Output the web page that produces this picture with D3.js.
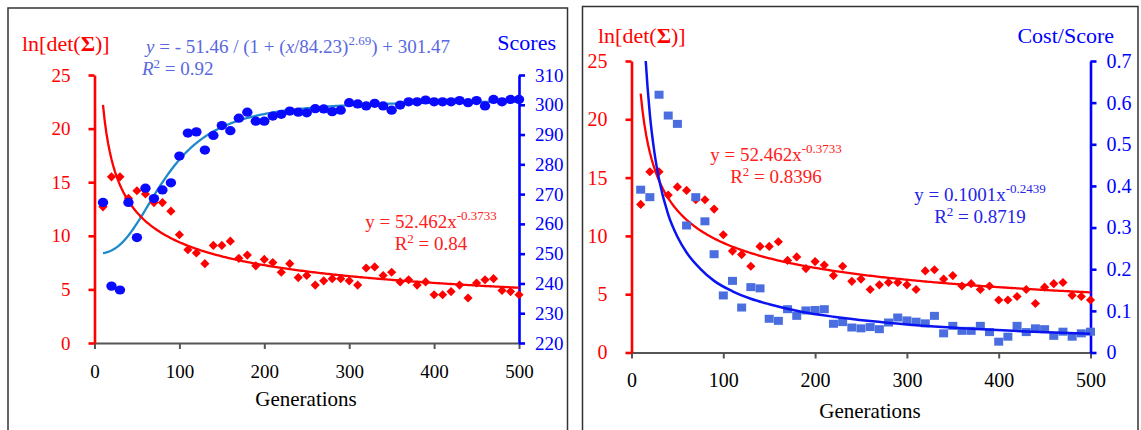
<!DOCTYPE html>
<html><head><meta charset="utf-8">
<script src="https://cdn.jsdelivr.net/npm/d3@7"></script>
<style>
body{margin:0;background:#fff}
text{font-family:"Liberation Serif","Times New Roman",serif}
</style>
</head><body>
<svg id="c" width="1141" height="430"></svg>
<script>
// ---------- data ----------
const generations = [10,20,30,40,50,60,70,80,90,100,110,120,130,140,150,160,170,180,190,200,
  210,220,230,240,250,260,270,280,290,300,310,320,330,340,350,360,370,380,390,400,
  410,420,430,440,450,460,470,480,490,500];
const lnDet = [12.7,15.5,15.5,13.5,14.2,13.9,13.1,13.1,12.3,10.1,8.7,8.4,7.4,9.1,9.1,9.5,7.9,8.2,7.2,7.8,
  7.5,6.6,7.4,6.1,6.3,5.4,5.8,6.0,6.0,5.8,5.4,7.0,7.1,6.3,6.6,5.7,5.9,5.4,5.7,4.5,
  4.5,4.8,5.4,4.2,5.6,5.9,6.0,4.9,4.8,4.5];
const scores = [267.2,239.1,237.8,267.2,255.4,272.0,268.5,271.4,273.8,282.8,290.5,290.9,284.8,289.7,293.0,291.3,295.5,297.5,294.5,294.5,
  296.2,296.8,297.9,297.5,297.3,298.7,298.6,297.7,298.2,300.7,300.3,299.6,300.5,299.6,298.2,299.9,301.0,301.0,301.6,301.0,
  301.0,301.0,301.4,300.7,301.4,299.6,301.8,301.0,301.8,301.8];
const costScore = [0.391,0.373,0.619,0.569,0.549,0.305,0.373,0.315,0.236,0.137,0.172,0.108,0.157,0.154,0.081,0.076,0.104,0.088,0.101,0.102,
  0.104,0.069,0.073,0.060,0.058,0.061,0.056,0.072,0.084,0.077,0.074,0.070,0.088,0.046,0.064,0.052,0.052,0.064,0.049,0.026,
  0.038,0.064,0.049,0.058,0.056,0.040,0.050,0.038,0.046,0.050];
const costTrendGen = [12,15,20,25,30,40,50,60,75,90,110,130,150,185,220,260,300,370,430,500];
const costTrendVal = [0.857,0.719,0.572,0.480,0.416,0.331,0.278,0.240,0.201,0.172,0.147,0.129,0.116,0.098,0.086,0.0755,0.0673,0.0571,0.0507,0.045];
// fitted equations shown on the chart
const lnFit = [52.462, -0.3733];                 // y = a x^b
const scoreFit = [-51.46, 84.23, 2.69, 301.47];  // y = a/(1+(x/c)^p)+d

const xTicks = [0,100,200,300,400,500];
const lnTicks = [0,5,10,15,20,25];
const scoreTicks = [220,230,240,250,260,270,280,290,300,310];
const costTicks = [0,0.1,0.2,0.3,0.4,0.5,0.6,0.7];

// ---------- helpers ----------
const svg = d3.select('#c');
const RED = '#ff0000', BLUE = '#0000ff';
const fitX = d3.range(10, 500.001, 2);

svg.append('rect').attr('x',8).attr('y',8).attr('width',559.5).attr('height',440)
  .attr('fill','none').attr('stroke','#333').attr('stroke-width',1.5);
svg.append('rect').attr('x',582.5).attr('y',6.5).attr('width',555.5).attr('height',440)
  .attr('fill','none').attr('stroke','#333').attr('stroke-width',1.5);

function styleAxis(g, color, w, fs) {
  g.select('.domain').attr('stroke', color).attr('stroke-width', w);
  g.selectAll('.tick line').attr('stroke', color).attr('stroke-width', w);
  g.selectAll('.tick text').attr('fill', color).attr('font-size', fs)
    .attr('font-family','"Liberation Serif","Times New Roman",serif');
}

function panel(o) {
  const x = d3.scaleLinear().domain([0,500]).range([o.x0, o.x1]);
  const yL = d3.scaleLinear().domain([0,25]).range([o.yb, o.yt]);
  const yR = d3.scaleLinear().domain(o.rDomain).range([o.yb, o.yt]);
  const g = svg.append('g');

  const clipId = 'clip' + o.id;
  svg.append('clipPath').attr('id', clipId).append('rect')
    .attr('x', o.x0).attr('y', o.yt).attr('width', o.x1 - o.x0).attr('height', o.yb - o.yt);

  const ax = g.append('g').attr('transform', `translate(0,${o.yb})`)
    .call(d3.axisBottom(x).tickValues(xTicks).tickSize(6).tickSizeOuter(0).tickPadding(o.xPad));
  styleAxis(ax, '#555', 2, o.fs);
  ax.selectAll('.tick text').attr('fill', '#000');

  const al = g.append('g').attr('transform', `translate(${o.x0},0)`)
    .call(d3.axisLeft(yL).tickValues(lnTicks).tickSize(6).tickSizeOuter(0).tickPadding(18));
  styleAxis(al, RED, 2.6, o.fs);
  const ar = g.append('g').attr('transform', `translate(${o.x1},0)`)
    .call(d3.axisRight(yR).tickValues(o.rTicks).tickSize(6).tickSizeOuter(0).tickPadding(10)
      .tickFormat(o.rFormat));
  styleAxis(ar, BLUE, 2.6, o.fs);

  return {x, yL, yR, g, clipId};
}

function diamonds(p, vals) {
  p.g.append('g').selectAll('path').data(generations).join('path')
    .attr('d', d3.symbol(d3.symbolSquare, 42))
    .attr('transform', (d,i) => `translate(${p.x(d)},${p.yL(vals[i])}) rotate(45)`)
    .attr('fill', RED);
}

function lnCurve(p) {
  p.g.append('path').datum(fitX)
    .attr('d', d3.line().x(d => p.x(d)).y(d => p.yL(lnFit[0] * Math.pow(d, lnFit[1]))))
    .attr('fill','none').attr('stroke', RED).attr('stroke-width', 2.3);
}

function txt(x, y, s, color, fs, anchor) {
  return svg.append('text').attr('x', x).attr('y', y).attr('fill', color)
    .attr('font-size', fs).attr('text-anchor', anchor || 'start').text(s);
}

function title(x, y, color, fs) {
  const t = svg.append('text').attr('x', x).attr('y', y).attr('fill', color).attr('font-size', fs);
  t.append('tspan').text('ln[det(');
  t.append('tspan').attr('font-weight','bold').text('Σ');
  t.append('tspan').text(')]');
}

function powEq(cx, y, a, b, r2, color) {
  const t = svg.append('text').attr('x', cx).attr('y', y).attr('fill', color)
    .attr('font-size', 19).attr('text-anchor','middle');
  t.append('tspan').text(`y = ${a}x`);
  t.append('tspan').attr('dy', -8).attr('font-size', 13).text(b);
  const t2 = svg.append('text').attr('x', cx).attr('y', y + 21.5).attr('fill', color)
    .attr('font-size', 19).attr('text-anchor','middle');
  t2.append('tspan').text('R');
  t2.append('tspan').attr('dy', -7).attr('font-size', 13).text('2');
  t2.append('tspan').attr('dy', 7).text(` = ${r2}`);
}

// ---------- left panel ----------
const L = panel({id:'L', x0:94.5, x1:519, yb:343, yt:75, rDomain:[220,310], rTicks:scoreTicks,
  rFormat:d3.format('d'), fs:19, xPad:16});

L.g.append('path').datum(fitX)
  .attr('d', d3.line().x(d => L.x(d))
    .y(d => L.yR(scoreFit[0] / (1 + Math.pow(d / scoreFit[1], scoreFit[2])) + scoreFit[3])))
  .attr('fill','none').attr('stroke', '#1e8acb').attr('stroke-width', 2.3);
lnCurve(L);
diamonds(L, lnDet);
L.g.append('g').selectAll('ellipse').data(generations).join('ellipse')
  .attr('cx', d => L.x(d)).attr('cy', (d,i) => L.yR(scores[i]))
  .attr('rx', 5.2).attr('ry', 4.6).attr('fill', '#0a0aff');

title(22, 51, RED, 22);
txt(556, 50, 'Scores', BLUE, 22, 'end');
{
  const c = '#5868e0';
  const t = svg.append('text').attr('x', 146).attr('y', 53).attr('fill', c).attr('font-size', 19);
  t.append('tspan').attr('font-style','italic').text('y');
  t.append('tspan').text(' = - 51.46 / (1 + (');
  t.append('tspan').attr('font-style','italic').text('x');
  t.append('tspan').text('/84.23)');
  t.append('tspan').attr('dy', -8).attr('font-size', 13).text('2.69');
  t.append('tspan').attr('dy', 8).text(') + 301.47');
  const t2 = svg.append('text').attr('x', 142).attr('y', 75).attr('fill', c).attr('font-size', 19);
  t2.append('tspan').attr('font-style','italic').text('R');
  t2.append('tspan').attr('dy', -7).attr('font-size', 13).text('2');
  t2.append('tspan').attr('dy', 7).text(' = 0.92');
}
powEq(431, 228, '52.462', '-0.3733', '0.84', '#ff2020');
txt(306, 406, 'Generations', '#000', 21, 'middle');

// ---------- right panel ----------
const R = panel({id:'R', x0:631.5, x1:1090.5, yb:352.5, yt:61, rDomain:[0,0.7], rTicks:costTicks,
  rFormat:d => d === 0 ? '0' : d3.format('.1f')(d), fs:20, xPad:14});

lnCurve(R);
diamonds(R, lnDet);
R.g.append('g').selectAll('rect').data(generations).join('rect')
  .attr('x', d => R.x(d) - 4.5).attr('y', (d,i) => R.yR(costScore[i]) - 4)
  .attr('width', 9).attr('height', 8).attr('fill', '#4a6edf');
R.g.append('path').datum(costTrendGen.map((g,i) => [g, costTrendVal[i]]))
  .attr('clip-path', `url(#${R.clipId})`)
  .attr('d', d3.line().x(d => R.x(d[0])).y(d => R.yR(d[1])).curve(d3.curveMonotoneX))
  .attr('fill','none').attr('stroke', '#0a14f0').attr('stroke-width', 2.5);

title(598, 43, RED, 22);
txt(1114, 43, 'Cost/Score', BLUE, 22, 'end');
powEq(776, 161, '52.462', '-0.3733', '0.8396', '#ff2020');
powEq(980, 201, '0.1001', '-0.2439', '0.8719', '#2424e8');
txt(870, 418, 'Generations', '#000', 21, 'middle');
</script>
</body></html>
